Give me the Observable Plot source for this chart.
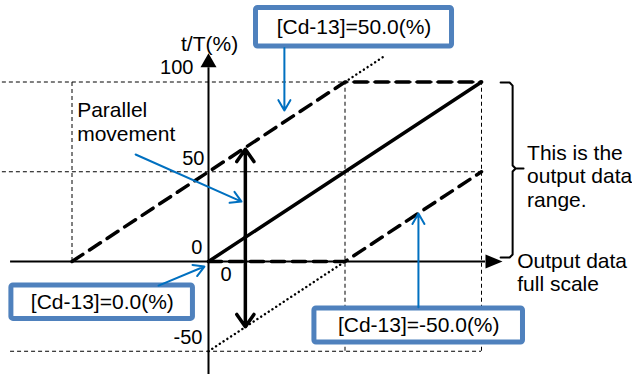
<!DOCTYPE html>
<html><head><meta charset="utf-8">
<script src="https://cdn.jsdelivr.net/npm/d3@7"></script>
<script src="https://cdn.jsdelivr.net/npm/@observablehq/plot@0.6"></script>
<style>html,body{margin:0;padding:0;background:#fff;} svg{display:block}</style>
</head><body><div id="chart"></div>
<script>
// ---- values ----
const yTicks = [100, 50, 0, -50];
const yTickLabels = ["100", "50", "0", "-50"];
const xTicks = [0];
const xTickLabels = ["0"];
const gridYs = [100, 50, -50];
const gridXs = [-50, 50, 100];
const gridXLow = [0, -50, -50];
const solidX = [0, 100], solidT = [0, 100];
const upperX = [-50, 50, 100], upperT = [0, 100, 100];
const upperDotX = [50, 64], upperDotT = [100, 114];
const lowerX = [0, 50, 100], lowerT = [0, 0, 50];
const lowerDotX = [0, 50], lowerDotT = [-50, 0];
const moveX = 13.5, moveFrom = 14, moveTo = [62.5, -36.3];
const cdLabels = ["[Cd-13]=50.0(%)", "[Cd-13]=0.0(%)", "[Cd-13]=-50.0(%)"];
const yAxisTitle = "t/T(%)";
const notes = ["Parallel\nmovement", "This is the\noutput data\nrange.", "Output data\nfull scale"];

// ---- layout (data units) ----
const pts = (xs, ts) => xs.map((x, i) => ({x, y: ts[i]}));
const font = "Liberation Sans, Arial, sans-serif";
const ink = "#000";
const boxBlue = "#4F81BD";
const arrowBlue = "#0070C0";

const boxes = [
  {x1: 17.4, x2: 89.2, y1: 141.2, y2: 119.8, cx: 53.3, cy: 130.6, label: cdLabels[0]},
  {x1: -72.2, x2: -5.7, y1: -13.4, y2: -32.0, cx: -38.9, cy: -22.7, label: cdLabels[1]},
  {x1: 38.8, x2: 115.2, y1: -26.2, y2: -45.1, cx: 77.0, cy: -35.6, label: cdLabels[2]}
];
const blueArrows = [
  {x1: 27.8, y1: 119.0, x2: 27.8, y2: 84.1},
  {x1: -26.7, y1: 59.6, x2: 12.1, y2: 33.4},
  {x1: -18.3, y1: -13.4, x2: -1.5, y2: -2.8},
  {x1: 76.9, y1: -25.5, x2: 76.9, y2: 26.7}
];
const tickPos = {100: [-5.5, 104.2], 50: [-1.5, 53.5], 0: [-2.2, 3.9], "-50": [-2.2, -45.7]};
const gridH = gridYs.map(y => ({y, x1: y === -50 ? -72.5 : -75.5, x2: 100}));
const gridV = gridXs.map((x, i) => ({x, y1: gridXLow[i], y2: 100}));
const bracket = pts([107, 110.3, 111.4, 111.4, 112.5, 115.4, 112.5, 111.4, 111.4, 110.3, 107],
                    [99.7, 99.7, 98.0, 53.5, 51.8, 51.8, 51.8, 50.1, 3.9, 2.2, 2.2]);

const arrowUp = {draw(c) { c.moveTo(0, 0); c.lineTo(-8, 14); c.lineTo(8, 14); c.closePath(); }};
const arrowRight = {draw(c) { c.moveTo(0, 0); c.lineTo(-17, -7); c.lineTo(-17, 7); c.closePath(); }};
const dotted = {stroke: ink, strokeWidth: 2.4, strokeLinecap: "round", strokeDasharray: "0.1,4.4"};

const chart = Plot.plot({
  width: 632, height: 376,
  x: {domain: [0, 100], range: [208, 481], axis: null},
  y: {domain: [0, 100], range: [261, 81.5], axis: null},
  marks: [
    // grid
    Plot.ruleY(gridH, {y: "y", x1: "x1", x2: "x2", stroke: ink, strokeWidth: 1, strokeDasharray: "4,3"}),
    Plot.ruleX(gridV, {x: "x", y1: "y1", y2: "y2", stroke: ink, strokeWidth: 1, strokeDasharray: "4,3"}),
    // axes
    Plot.ruleY([{y: 0, x1: -72.5, x2: 101.5}], {y: "y", x1: "x1", x2: "x2", stroke: ink, strokeWidth: 2}),
    Plot.ruleX([{x: 0, y1: -63, y2: 108}], {x: "x", y1: "y1", y2: "y2", stroke: ink, strokeWidth: 2}),
    Plot.dot([{x: 0, y: 116}], {x: "x", y: "y", symbol: arrowUp, r: 6, fill: ink, stroke: "none"}),
    Plot.dot([{x: 107.7, y: 0}], {x: "x", y: "y", symbol: arrowRight, r: 6, fill: ink, stroke: "none"}),
    // dotted extensions
    Plot.line(pts(upperDotX, upperDotT), {x: "x", y: "y", ...dotted}),
    Plot.line(pts(lowerDotX, lowerDotT), {x: "x", y: "y", ...dotted}),
    // shifted (dashed) lines
    Plot.line(pts(upperX, upperT), {x: "x", y: "y", stroke: ink, strokeWidth: 3.5, strokeDasharray: "13,8"}),
    Plot.line(pts(lowerX, lowerT), {x: "x", y: "y", stroke: ink, strokeWidth: 3.5, strokeDasharray: "13,8"}),
    // base line
    Plot.line(pts(solidX, solidT), {x: "x", y: "y", stroke: ink, strokeWidth: 3.5}),
    // parallel movement double arrow
    Plot.arrow(moveTo.map(t => ({x: moveX, y1: moveFrom, y2: t})), {
      x1: "x", x2: "x", y1: "y1", y2: "y2", stroke: ink, strokeWidth: 3.5, headLength: 6.4, headAngle: 70
    }),
    // bracket
    Plot.line(bracket, {x: "x", y: "y", stroke: ink, strokeWidth: 2, strokeLinejoin: "round"}),
    // label boxes
    Plot.rect(boxes, {x1: "x1", x2: "x2", y1: "y1", y2: "y2", fill: "white", stroke: boxBlue, strokeWidth: 5, rx: 2}),
    Plot.text(boxes, {x: "cx", y: "cy", text: "label", fontSize: 21, fontFamily: font, fill: ink}),
    // blue pointers
    Plot.arrow(blueArrows, {x1: "x1", y1: "y1", x2: "x2", y2: "y2", stroke: arrowBlue, strokeWidth: 2, headLength: 9, headAngle: 60}),
    // tick labels
    Plot.text(yTicks.map((v, i) => ({v, label: yTickLabels[i]})), {
      x: d => tickPos[d.v][0], y: d => tickPos[d.v][1], text: "label",
      textAnchor: "end", lineAnchor: "bottom", fontSize: 20, fontFamily: font, fill: ink
    }),
    Plot.text(xTicks.map((v, i) => ({v, label: xTickLabels[i]})), {
      x: d => d.v + 4.4, y: -10.6, text: "label", textAnchor: "start", lineAnchor: "bottom", fontSize: 20, fontFamily: font, fill: ink
    }),
    Plot.text([yAxisTitle], {x: 0.4, y: 117.5, text: d => d, textAnchor: "middle", lineAnchor: "bottom", fontSize: 21, fontFamily: font, fill: ink}),
    // notes
    Plot.text([{t: notes[0], x: -48.1, y: 67.4}, {t: notes[1], x: 116.7, y: 30.6}, {t: notes[2], x: 113.1, y: -16.7}], {
      x: "x", y: "y", text: "t", textAnchor: "start", lineAnchor: "bottom", lineHeight: 1.11, fontSize: 21, fontFamily: font, fill: ink
    })
  ]
});
document.getElementById("chart").appendChild(chart);
</script>
</body></html>
